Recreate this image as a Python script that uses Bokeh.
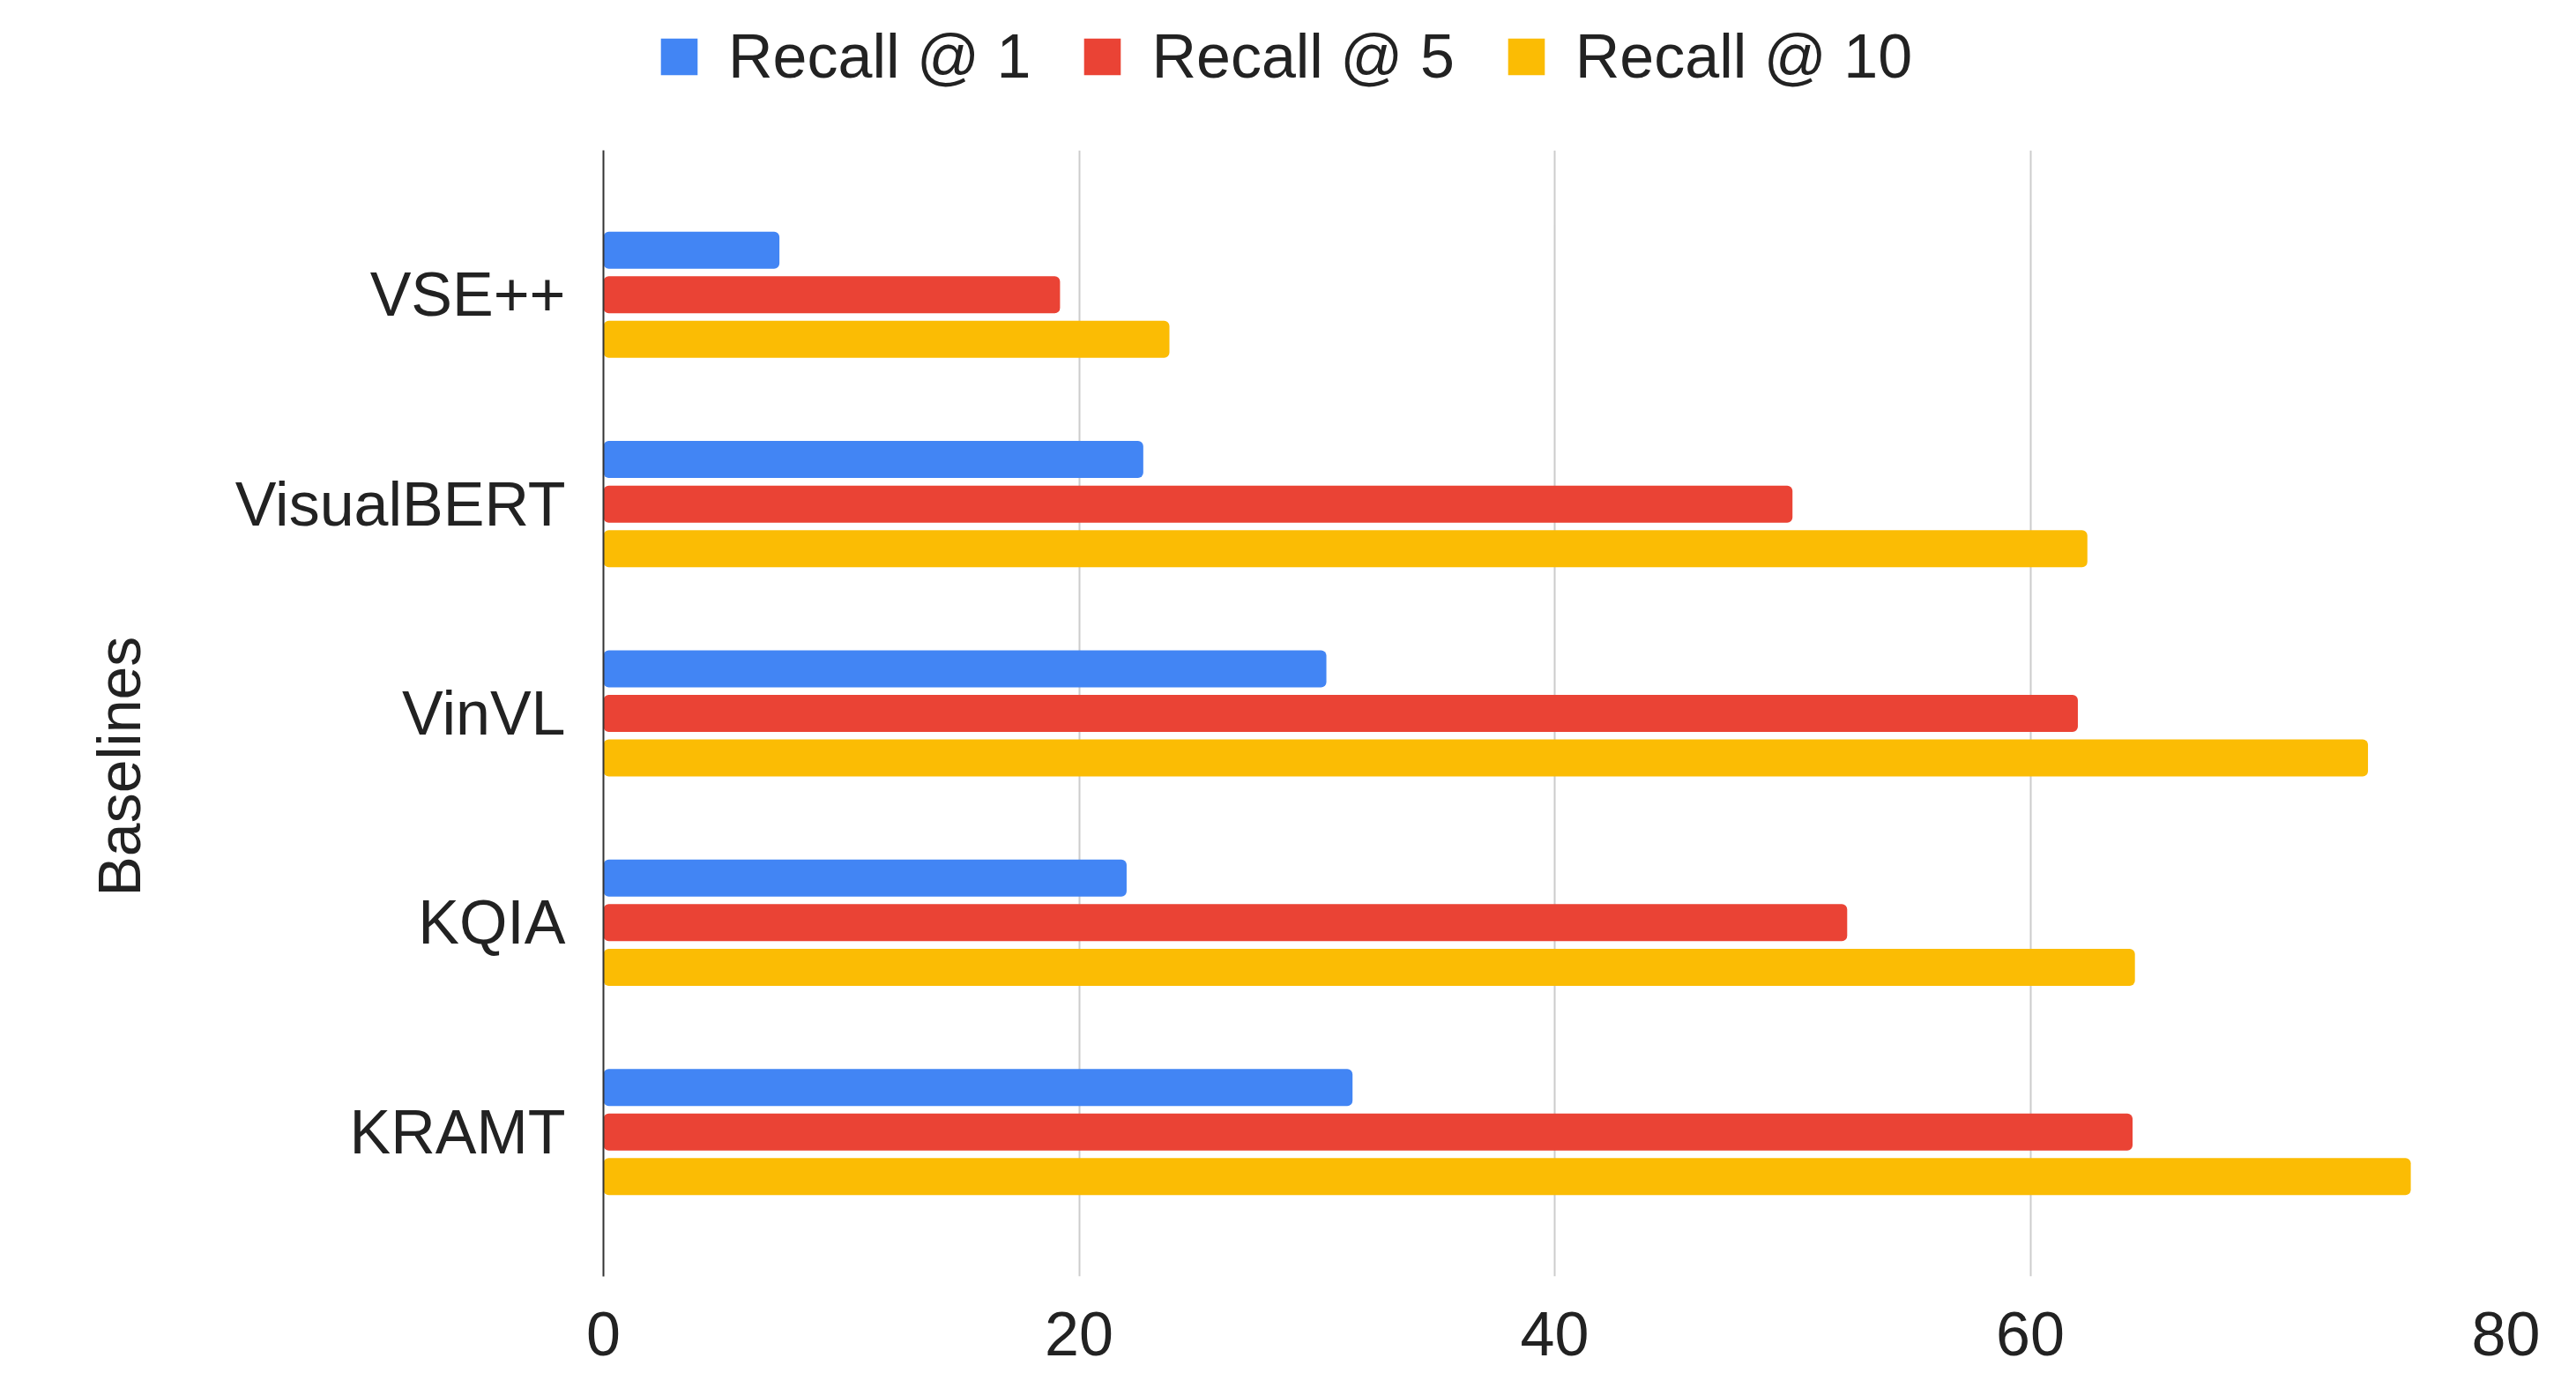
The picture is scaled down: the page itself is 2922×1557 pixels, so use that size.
from bokeh.plotting import figure
from bokeh.layouts import column
from bokeh.models import (FactorRange, ColumnDataSource, Legend, LegendItem, Title,
                          FixedTicker, Range1d)
from bokeh.transform import dodge
from bokeh.embed import file_html
from bokeh.resources import INLINE

# ---- data ----
baselines = ["VSE++", "VisualBERT", "VinVL", "KQIA", "KRAMT"]
series_names = ["Recall @ 1", "Recall @ 5", "Recall @ 10"]
recall_1 = [7.4, 22.7, 30.4, 22.0, 31.5]
recall_5 = [19.2, 50.0, 62.0, 52.3, 64.3]
recall_10 = [23.8, 62.4, 74.2, 64.4, 76.0]
x_ticks = [0, 20, 40, 60, 80]
colors = ["#4285F4", "#EA4335", "#FBBC04"]

FONT = "Liberation Sans"
TXT = "#222222"
W = 2922
LEG_H = 170
MAIN_H = 1557 - LEG_H
LEFT = 684
RIGHT = 80

src = ColumnDataSource(dict(cat=baselines, r1=recall_1, r5=recall_5, r10=recall_10))
cols = ["r1", "r5", "r10"]

# ---------------- main chart ----------------
y_range = FactorRange(factors=list(reversed(baselines)),
                      range_padding=0.19, range_padding_units="absolute")

p = figure(width=W, height=MAIN_H, y_range=y_range, x_range=(0, 80),
           output_backend="svg", toolbar_location=None,
           min_border_left=LEFT, min_border_right=RIGHT,
           min_border_top=0, min_border_bottom=110)
p.outline_line_color = None
p.background_fill_color = "white"
p.border_fill_color = "white"

bar_h = 0.177
step = 0.213
offsets = [step, 0.0, -step]
for col, off, c in zip(cols, offsets, colors):
    p.hbar(y=dodge("cat", off, range=p.y_range), right=col, left=0,
           height=bar_h, source=src, fill_color=c, line_color=None,
           border_radius=6)

# x axis
p.xaxis.ticker = FixedTicker(ticks=x_ticks)
p.xaxis.axis_line_color = None
p.xaxis.major_tick_line_color = None
p.xaxis.minor_tick_line_color = None
p.xaxis.major_label_text_font = FONT
p.xaxis.major_label_text_font_size = "70px"
p.xaxis.major_label_text_color = TXT
p.xaxis.major_label_standoff = 34

# y axis
p.yaxis.axis_line_color = "#333333"
p.yaxis.axis_line_width = 2
p.yaxis.major_tick_line_color = None
p.yaxis.minor_tick_line_color = None
p.yaxis.major_label_text_font = FONT
p.yaxis.major_label_text_font_size = "70px"
p.yaxis.major_label_text_color = TXT
p.yaxis.major_label_standoff = 37

p.xgrid.ticker = FixedTicker(ticks=x_ticks)
p.xgrid.grid_line_color = "#cccccc"
p.xgrid.grid_line_width = 2
p.ygrid.grid_line_color = None

# y axis title in the left panel
ytitle = Title(text="Baselines", align="left", offset=431, vertical_align="middle",
               standoff=180, text_font=FONT, text_font_size="68px",
               text_font_style="normal", text_color=TXT)
p.add_layout(ytitle, "left")

# ---------------- legend strip above ----------------
lg = figure(width=W, height=LEG_H, y_range=FactorRange(factors=list(reversed(baselines))),
            x_range=Range1d(-1000, -999), output_backend="svg", toolbar_location=None,
            min_border_left=LEFT, min_border_right=RIGHT,
            min_border_top=0, min_border_bottom=0)
lg.outline_line_color = None
lg.axis.visible = False
lg.grid.visible = False
lg.background_fill_color = "white"
lg.border_fill_color = "white"
leg_renderers = []
for col, c in zip(cols, colors):
    # zero-height bars: nothing is drawn, they only supply the legend swatches
    leg_renderers.append(lg.hbar(y="cat", right=col, left=0, height=0, source=src,
                                 fill_color=c, line_color=None))

items = [LegendItem(label=n, renderers=[r]) for n, r in zip(series_names, leg_renderers)]
legend = Legend(items=items, orientation="horizontal", location=(60, 66),
                glyph_width=52, glyph_height=52, label_standoff=30, spacing=55,
                padding=0, margin=0, border_line_color=None,
                background_fill_alpha=0,
                label_text_font=FONT, label_text_font_size="70px",
                label_text_color=TXT)
lg.add_layout(legend)

layout = column(lg, p, spacing=0)
open("out.html", "w").write(file_html(layout, INLINE))
